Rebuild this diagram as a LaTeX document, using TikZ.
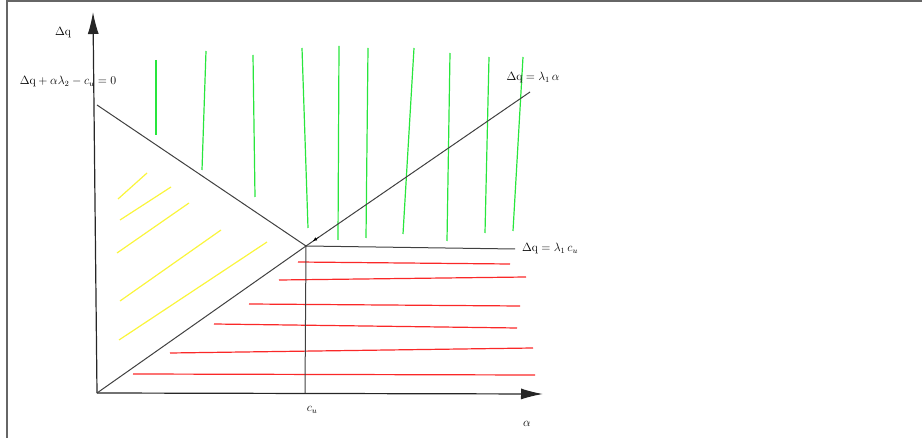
\documentclass[tikz,border=0pt]{standalone}
\usetikzlibrary{arrows.meta}

\definecolor{hgreen}{RGB}{40,230,60}
\definecolor{hyellow}{RGB}{250,245,60}
\definecolor{hred}{RGB}{250,40,40}

\begin{document}
\begin{tikzpicture}[x=1pt, y=-1pt,
    curve/.style={line width=1pt, black!75},
    axis/.style={line width=1.2pt, black!85, -{Latex[length=22pt,width=11pt]}},
    hatch/.style={line width=1.2pt},
    lbl/.style={font=\large, inner sep=1pt}]
    \useasboundingbox (0,0) rectangle (922,438);

    % frame (top and left edge only)
    \draw[line width=1.2pt, black!60] (922,1) -- (7,1) -- (7,438);

    % key points
    \coordinate (O) at (97,393);
    \coordinate (ytip) at (93,12);
    \coordinate (xtip) at (543,394);
    \coordinate (A) at (97,105);
    \coordinate (X) at (306,246);
    \coordinate (B) at (530,92);
    \coordinate (C) at (515,249);
    \coordinate (D) at (305,393);

    % Green hatching
    \foreach \xa/\ya/\xb/\yb in {156/60/156/135, 206/51/202/170, 253/55/255/197,
      302/48/308/228, 339/46/338/240, 368/48/366/238, 414/48/403/234,
      450/53/447/241, 489/57/485/233, 523/57/513/231}
      \draw[hatch, hgreen] (\xa,\ya) -- (\xb,\yb);

    % Yellow hatching
    \foreach \xa/\ya/\xb/\yb in {118/199/147/173, 120/220/171/187, 117/253/189/203,
      120/301/221/230, 119/340/267/242}
      \draw[hatch, hyellow] (\xa,\ya) -- (\xb,\yb);

    % Red hatching
    \foreach \xa/\ya/\xb/\yb in {298/262/510/264, 279/280/526/277, 249/304/520/306,
      214/324/517/328, 170/353/533/348, 133/374/535/375}
      \draw[hatch, hred] (\xa,\ya) -- (\xb,\yb);

    % Axes
    \draw[axis] (O) -- (ytip);
    \draw[axis] (O) -- (xtip);

    % Boundary lines
    \draw[curve] (A) -- (X);
    \draw[curve] (O) -- (X) -- (B);
    \draw[curve] (X) -- (C);
    \draw[curve] (X) -- (D);

    % small marker near the corner
    \coordinate (m1) at (319,237);
    \coordinate (m2) at (313,241);
    \draw[black, -{Latex[length=4pt,width=3.5pt]}] (m1) -- (m2);

    % Labels
    \node[lbl] (ldq) at (63,33) {$\Delta\mathrm{q}$};
    \node[lbl] (lbudget) at (68,82) {$\Delta\mathrm{q} + \alpha\lambda_2 - c_u = 0$};
    \node[lbl] (lray) at (533,78) {$\Delta\mathrm{q} = \lambda_1\,\alpha$};
    \node[lbl] (lflat) at (550,249) {$\Delta\mathrm{q} = \lambda_1\,c_u$};
    \node[lbl] (lcu) at (312,410) {$c_u$};
    \node[lbl] (lalpha) at (527,424) {$\alpha$};
\end{tikzpicture}
\end{document}
